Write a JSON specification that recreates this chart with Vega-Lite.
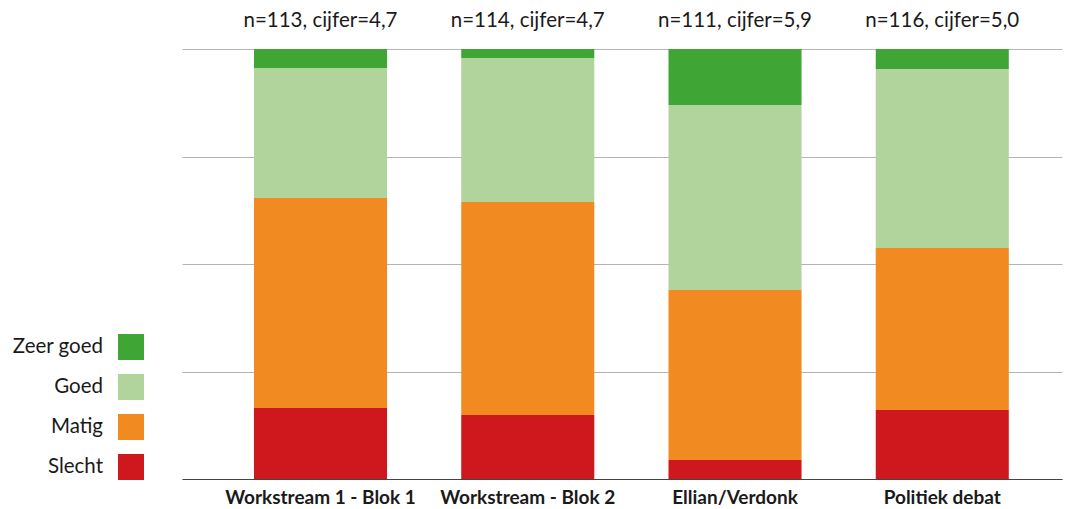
{
  "$schema": "https://vega.github.io/schema/vega-lite/v6.json",
  "width": 880,
  "height": 430,
  "autosize": {"type": "none"},
  "padding": {"left": 182, "top": 49, "right": 14, "bottom": 30},
  "config": {
    "view": {"stroke": null},
    "font": "Lato",
    "axis": {"labelFont": "Lato", "titleFont": "Lato"},
    "legend": {"labelFont": "Lato"}
  },
  "layer": [
    {
      "data": {
        "values": [
          {"cat": "Workstream 1 - Blok 1", "rating": "Slecht", "rank": 1, "pct": 16.5},
          {"cat": "Workstream 1 - Blok 1", "rating": "Matig", "rank": 2, "pct": 48.85},
          {"cat": "Workstream 1 - Blok 1", "rating": "Goed", "rank": 3, "pct": 30.23},
          {"cat": "Workstream 1 - Blok 1", "rating": "Zeer goed", "rank": 4, "pct": 4.42},
          {"cat": "Workstream - Blok 2", "rating": "Slecht", "rank": 1, "pct": 14.88},
          {"cat": "Workstream - Blok 2", "rating": "Matig", "rank": 2, "pct": 49.53},
          {"cat": "Workstream - Blok 2", "rating": "Goed", "rank": 3, "pct": 33.49},
          {"cat": "Workstream - Blok 2", "rating": "Zeer goed", "rank": 4, "pct": 2.1},
          {"cat": "Ellian/Verdonk", "rating": "Slecht", "rank": 1, "pct": 4.42},
          {"cat": "Ellian/Verdonk", "rating": "Matig", "rank": 2, "pct": 39.53},
          {"cat": "Ellian/Verdonk", "rating": "Goed", "rank": 3, "pct": 43.03},
          {"cat": "Ellian/Verdonk", "rating": "Zeer goed", "rank": 4, "pct": 13.02},
          {"cat": "Politiek debat", "rating": "Slecht", "rank": 1, "pct": 16.05},
          {"cat": "Politiek debat", "rating": "Matig", "rank": 2, "pct": 37.67},
          {"cat": "Politiek debat", "rating": "Goed", "rank": 3, "pct": 41.63},
          {"cat": "Politiek debat", "rating": "Zeer goed", "rank": 4, "pct": 4.65}
        ]
      },
      "mark": {"type": "bar"},
      "encoding": {
        "x": {
          "field": "cat",
          "type": "nominal",
          "scale": {
            "domain": ["Workstream 1 - Blok 1", "Workstream - Blok 2", "Ellian/Verdonk", "Politiek debat"],
            "paddingInner": 0.358,
            "paddingOuter": 0.302,
            "align": 0.575
          },
          "axis": {
            "title": null,
            "orient": "bottom",
            "labelAngle": 0,
            "labelFontSize": 19,
            "labelFontWeight": "bold",
            "labelColor": "#1a1a1a",
            "labelPadding": 9,
            "labelLimit": 400,
            "labelOverlap": false,
            "ticks": false,
            "domainColor": "#444444",
            "domainWidth": 1
          }
        },
        "y": {
          "field": "pct",
          "type": "quantitative",
          "stack": "zero",
          "scale": {"domain": [0, 100], "nice": false},
          "axis": {
            "title": null,
            "labels": false,
            "ticks": false,
            "domain": false,
            "grid": true,
            "values": [0, 25, 50, 75, 100],
            "gridColor": "#b5b5b5",
            "gridWidth": 1
          }
        },
        "color": {
          "field": "rating",
          "type": "nominal",
          "scale": {
            "domain": ["Zeer goed", "Goed", "Matig", "Slecht"],
            "range": ["#3FA535", "#B1D39C", "#F28A22", "#CF181E"]
          },
          "legend": {
            "title": null,
            "orient": "none",
            "legendX": -64,
            "legendY": 285,
            "symbolType": "square",
            "symbolSize": 676,
            "symbolStrokeWidth": 0,
            "symbolOpacity": 1,
            "labelFontSize": 20.5,
            "labelColor": "#1a1a1a",
            "labelAlign": "right",
            "labelOffset": -41,
            "rowPadding": 14,
            "padding": 0,
            "labelLimit": 200
          }
        },
        "order": {"field": "rank", "type": "quantitative"}
      }
    },
    {
      "data": {
        "values": [
          {"cat": "Workstream 1 - Blok 1", "label": "n=113, cijfer=4,7"},
          {"cat": "Workstream - Blok 2", "label": "n=114, cijfer=4,7"},
          {"cat": "Ellian/Verdonk", "label": "n=111, cijfer=5,9"},
          {"cat": "Politiek debat", "label": "n=116, cijfer=5,0"}
        ]
      },
      "mark": {"type": "text", "fontSize": 20.5, "color": "#1a1a1a", "baseline": "alphabetic", "dy": -22, "font": "Lato"},
      "encoding": {
        "x": {"field": "cat", "type": "nominal"},
        "y": {"datum": 100},
        "text": {"field": "label"}
      }
    }
  ]
}
